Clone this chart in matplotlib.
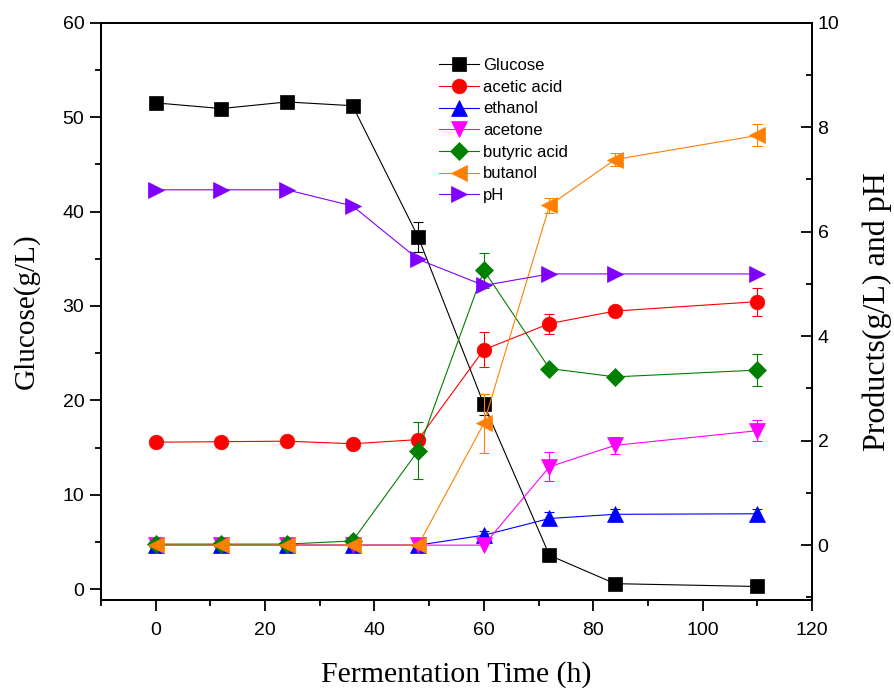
import numpy as np
import matplotlib
matplotlib.use("Agg")
import matplotlib.pyplot as plt
from matplotlib.ticker import MultipleLocator

# Sampling times (h)
time_h = np.array([0, 12, 24, 36, 48, 60, 72, 84, 110])

# Glucose (g/L), left axis
glucose = np.array([51.5, 50.9, 51.6, 51.2, 37.3, 19.6, 3.6, 0.6, 0.3])
glucose_err = np.array([0, 0, 0, 0, 1.6, 1.1, 0, 0, 0])

# Products (g/L) and pH, right axis
acetic = np.array([1.97, 1.98, 1.99, 1.94, 2.02, 3.74, 4.24, 4.48, 4.66])
acetic_err = np.array([0, 0, 0, 0, 0, 0.33, 0.19, 0, 0.27])
ethanol = np.array([0, 0, 0, 0, 0, 0.19, 0.51, 0.59, 0.60])
ethanol_err = np.array([0, 0, 0, 0, 0, 0.08, 0.12, 0.1, 0.1])
acetone = np.array([0, 0, 0, 0, 0, 0, 1.50, 1.91, 2.19])
acetone_err = np.array([0, 0, 0, 0, 0, 0, 0.28, 0.16, 0.2])
butyric = np.array([0.02, 0.02, 0.02, 0.08, 1.81, 5.26, 3.38, 3.22, 3.35])
butyric_err = np.array([0, 0, 0, 0, 0.55, 0.33, 0, 0, 0.30])
butanol = np.array([0, 0, 0, 0, 0, 2.33, 6.50, 7.38, 7.84])
butanol_err = np.array([0, 0, 0, 0, 0, 0.57, 0.15, 0.12, 0.21])
ph = np.array([6.80, 6.80, 6.80, 6.49, 5.47, 4.97, 5.19, 5.19, 5.19])

SANS = "Liberation Sans"
SERIF = "Liberation Serif"

fig = plt.figure(figsize=(8.95, 6.9), dpi=100)
ax = fig.add_axes([101 / 895, 1 - 600 / 690, (812 - 101) / 895, (600 - 22.6) / 690])
ax2 = ax.twinx()

LW = 0.8
CAP = 3.6


def draw(axis, y, err, color, marker, ms, label):
    line, = axis.plot(time_h, y, color=color, lw=LW, marker=marker, ms=ms,
                      mfc=color, mec=color, mew=0.5, label=label, zorder=3)
    if err is not None:
        m = err > 0
        axis.errorbar(time_h[m], y[m], yerr=err[m], fmt="none", ecolor=color,
                      elinewidth=LW, capsize=CAP, capthick=LW, zorder=2)
    return line


handles = []
handles.append(draw(ax, glucose, glucose_err, "black", "s", 9.4, "Glucose"))
handles.append(draw(ax2, acetic, acetic_err, "#ff0000", "o", 10.5, "acetic acid"))
handles.append(draw(ax2, ethanol, ethanol_err, "#0000ff", "^", 12, "ethanol"))
handles.append(draw(ax2, acetone, acetone_err, "#ff00ff", "v", 12, "acetone"))
handles.append(draw(ax2, butyric, butyric_err, "#008000", "D", 9.3, "butyric acid"))
handles.append(draw(ax2, butanol, butanol_err, "#ff8000", "<", 12, "butanol"))
handles.append(draw(ax2, ph, None, "#8000ff", ">", 12, "pH"))

# Axis limits
ax.set_xlim(-10, 120)
ax.set_ylim(-1.13, 60)
ax2.set_ylim(-1.05, 10)

# Ticks
ax.xaxis.set_major_locator(MultipleLocator(20))
ax.xaxis.set_minor_locator(MultipleLocator(10))
ax.yaxis.set_major_locator(MultipleLocator(10))
ax.yaxis.set_minor_locator(MultipleLocator(5))
ax2.yaxis.set_major_locator(MultipleLocator(2))
ax2.yaxis.set_minor_locator(MultipleLocator(1))

for a in (ax, ax2):
    for s in a.spines.values():
        s.set_linewidth(1.3)

ax.tick_params(axis="both", which="major", direction="out", length=8, width=1.3,
               labelsize=14, pad=4)
ax.tick_params(axis="both", which="minor", direction="out", length=4.5, width=1.3)
ax.tick_params(axis="x", which="major", pad=8)
ax2.tick_params(axis="y", which="major", direction="in", length=8, width=1.3,
                labelsize=14, pad=4)
ax2.tick_params(axis="y", which="minor", direction="in", length=4.5, width=1.3)

for lab in ax.get_xticklabels() + ax.get_yticklabels() + ax2.get_yticklabels():
    lab.set_fontfamily(SANS)

ax.set_xlabel("Fermentation Time (h)", fontfamily=SERIF, fontsize=21.5, labelpad=16)
ax.set_ylabel("Glucose(g/L)", fontfamily=SERIF, fontsize=21, labelpad=16)
ax2.set_ylabel("Products(g/L) and pH", fontfamily=SERIF, fontsize=23, labelpad=17)

fig.legend(handles=handles, loc="upper left",
           bbox_to_anchor=(439 / 895, 1 - 58 / 690), frameon=False,
           prop={"family": SANS, "size": 12}, handlelength=2.4,
           handletextpad=0.25, labelspacing=0.40, borderpad=0,
           borderaxespad=0, numpoints=1)

fig.savefig("out.png", dpi=100)
